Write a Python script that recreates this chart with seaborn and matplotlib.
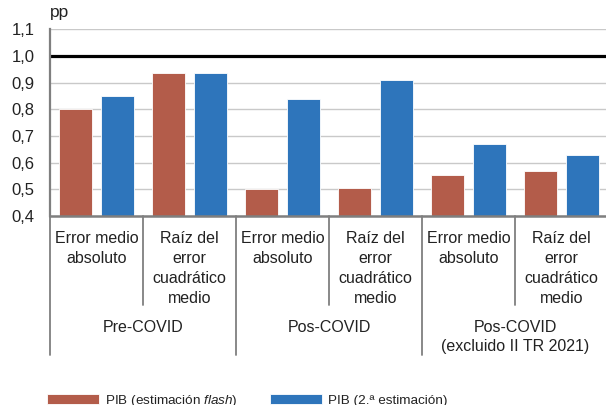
import matplotlib
matplotlib.use("Agg")
import matplotlib.pyplot as plt
import numpy as np
import pandas as pd
import seaborn as sns
from matplotlib.transforms import blended_transform_factory

# --- data -------------------------------------------------------------
grupos = ["Pre-COVID", "Pos-COVID", "Pos-COVID\n(excluido II TR 2021)"]
metricas = ["Error medio\nabsoluto", "Raíz del\nerror\ncuadrático\nmedio"]
series = ["PIB (estimación $\\mathit{flash}$)", "PIB (2.ª estimación)"]
pib_flash = [0.80, 0.935, 0.50, 0.505, 0.555, 0.57]
pib_segunda = [0.85, 0.935, 0.84, 0.91, 0.67, 0.63]
y_ticks = [0.4, 0.5, 0.6, 0.7, 0.8, 0.9, 1.0, 1.1]
y_tick_labels = ["0,4", "0,5", "0,6", "0,7", "0,8", "0,9", "1,0", "1,1"]
referencia = 1.0
unidad = "pp"
colores = ["#B35C4A", "#2E75BB"]

# --- long table for seaborn -----------------------------------------
claves = [f"{g}|{m}" for g in grupos for m in metricas]
df = pd.DataFrame({
    "clave": claves * 2,
    "valor": pib_flash + pib_segunda,
    "serie": [series[0]] * len(claves) + [series[1]] * len(claves),
})

sns.set_style("white")
plt.rcParams["font.family"] = ["Liberation Sans", "DejaVu Sans"]
plt.rcParams["mathtext.fontset"] = "custom"
plt.rcParams["mathtext.rm"] = "Liberation Sans"
plt.rcParams["mathtext.it"] = "Liberation Sans:italic"

texto = "#222222"
gris = "#7f7f7f"

W, H = 606, 405
fig = plt.figure(figsize=(W / 100, H / 100), dpi=100)
x0, x1 = 50, 608
y_top, y_bot = 29.3, 216
ax = fig.add_axes([x0 / W, (H - y_bot) / H, (x1 - x0) / W, (y_bot - y_top) / H])

sns.barplot(data=df, x="clave", y="valor", hue="serie", hue_order=series,
            order=claves, palette=colores, saturation=1, width=0.92, gap=0.23,
            edgecolor="white", linewidth=0.6, ax=ax, zorder=2)

ax.set_ylim(y_ticks[0], y_ticks[-1])
ax.set_xlim(-0.5, len(claves) - 0.5)
ax.set_yticks(y_ticks)
ax.set_yticklabels(y_tick_labels)
ax.yaxis.grid(True, color="#c9c9c9", linewidth=1.0, zorder=0)
ax.set_axisbelow(True)
ax.axhline(referencia, color="black", linewidth=2.3, zorder=3)

for s in ["top", "right"]:
    ax.spines[s].set_visible(False)
for s in ["left", "bottom"]:
    ax.spines[s].set_color(gris)
    ax.spines[s].set_zorder(4)
ax.spines["left"].set_linewidth(1.6)
ax.spines["bottom"].set_linewidth(1.8)

ax.set_xlabel("")
ax.set_ylabel("")
ax.tick_params(axis="y", length=0, pad=11, labelsize=12, labelcolor=texto)
ax.set_xticks(range(len(claves)))
ax.set_xticklabels(metricas * len(grupos), linespacing=1.4)
ax.tick_params(axis="x", which="major", length=0, pad=11, labelsize=11.5,
               labelcolor=texto)
ax.set_xticks(np.arange(0.5, len(claves) - 1, 2), minor=True)
ax.tick_params(axis="x", which="minor", direction="in", length=4,
               width=1.4, color=gris)

# unit label above the value axis
ax.text(0, (y_bot - 17.3) / (y_bot - y_top), unidad, transform=ax.transAxes,
        fontsize=12.5, color=texto, ha="left", va="baseline")

# separators below the axis and group labels
tr = blended_transform_factory(ax.transData, fig.transFigure)
for i, xb in enumerate(np.arange(-0.5, len(claves), 1.0)):
    largo = i % 2 == 0
    y_end = 355 if largo else 305
    ax.plot([xb, xb], [(H - y_bot) / H, (H - y_end) / H], transform=tr,
            color=gris, linewidth=1.3, clip_on=False, zorder=5)
for j, g in enumerate(grupos):
    ax.text(2 * j + 0.5, (H - 320) / H, g, transform=tr, ha="center",
            va="top", fontsize=11.5, color=texto, linespacing=1.3)

# legend along the bottom edge
handles, labels = ax.get_legend_handles_labels()
ax.get_legend().remove()
fig.legend(handles, labels, loc="upper left", bbox_to_anchor=(47 / W, (H - 393) / H),
           ncol=2, frameon=False, fontsize=9.7, handlelength=3.85,
           handleheight=0.8, handletextpad=0.45, columnspacing=2.4,
           borderpad=0, borderaxespad=0, labelcolor=texto)

fig.savefig("out.png", dpi=100)
